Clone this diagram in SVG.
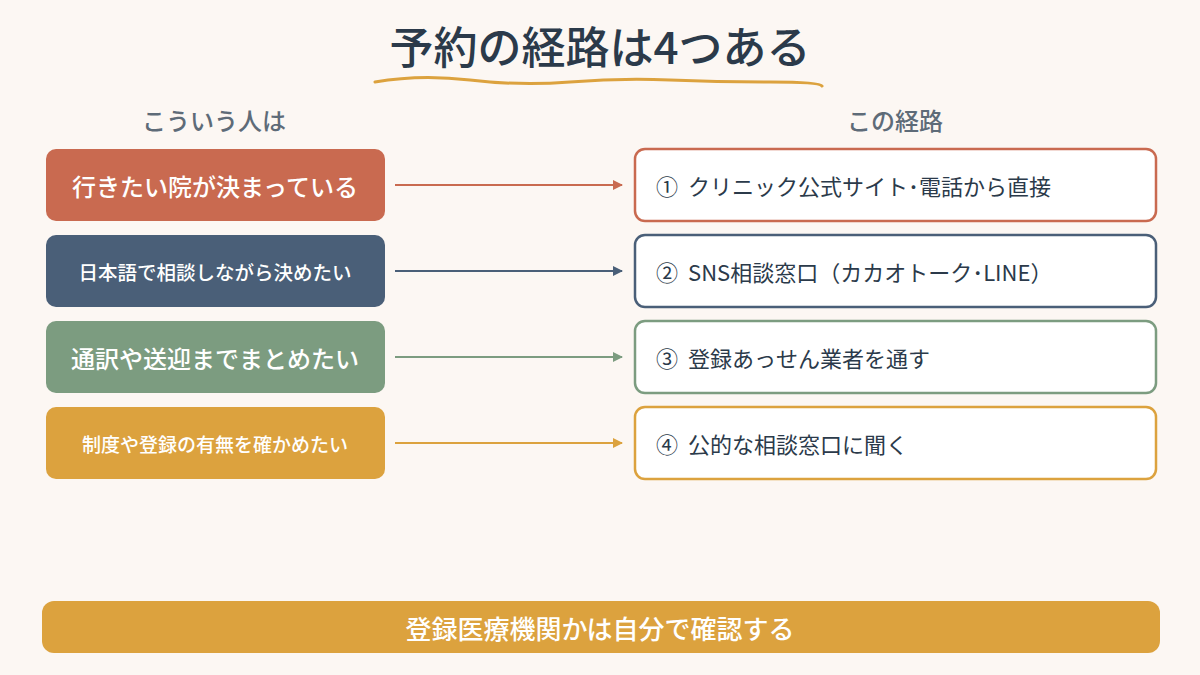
<svg xmlns="http://www.w3.org/2000/svg" width="1200" height="675" viewBox="0 0 1200 675">
<style>
text{font-family:"Noto Sans CJK JP","Noto Sans",sans-serif}
.l{fill:#fff;text-anchor:middle;dominant-baseline:central;font-weight:500}
.r{fill:#2b3a4a;font-size:22px;dominant-baseline:central}
.h{fill:#5e6b78;font-size:24px;font-weight:500;text-anchor:middle}
.rb{fill:#fff;stroke-width:2.5}
</style>
<defs>
<marker id="a1" markerWidth="10" markerHeight="10" refX="9" refY="5" orient="auto" markerUnits="userSpaceOnUse"><path d="M0,0L10,5L0,10z" fill="#c96a50"/></marker>
<marker id="a2" markerWidth="10" markerHeight="10" refX="9" refY="5" orient="auto" markerUnits="userSpaceOnUse"><path d="M0,0L10,5L0,10z" fill="#4a5f78"/></marker>
<marker id="a3" markerWidth="10" markerHeight="10" refX="9" refY="5" orient="auto" markerUnits="userSpaceOnUse"><path d="M0,0L10,5L0,10z" fill="#7c9c80"/></marker>
<marker id="a4" markerWidth="10" markerHeight="10" refX="9" refY="5" orient="auto" markerUnits="userSpaceOnUse"><path d="M0,0L10,5L0,10z" fill="#dca23e"/></marker>
</defs>
<rect width="1200" height="675" fill="#fcf7f3"/>
<text x="600" y="64" font-size="44" font-weight="500" fill="#2b3a4a" text-anchor="middle">予約の経路は4つある</text>
<path d="M375,82 Q420,74 470,80 T570,82 T670,80 T770,82 T822,86" fill="none" stroke="#dca23e" stroke-width="3" stroke-linecap="round"/>
<text class="h" x="214" y="130">こういう人は</text>
<text class="h" x="895" y="130">この経路</text>
<g id="n1"><rect x="46" y="149" width="339" height="72" rx="10" fill="#c96a50"/><text class="l" x="215" y="185" font-size="24">行きたい院が決まっている</text></g>
<g id="n2"><rect x="46" y="235" width="339" height="72" rx="10" fill="#4a5f78"/><text class="l" x="215" y="271" font-size="19.5">日本語で相談しながら決めたい</text></g>
<g id="n3"><rect x="46" y="321" width="339" height="72" rx="10" fill="#7c9c80"/><text class="l" x="215" y="357" font-size="24">通訳や送迎までまとめたい</text></g>
<g id="n4"><rect x="46" y="407" width="339" height="72" rx="10" fill="#dca23e"/><text class="l" x="215" y="443" font-size="19">制度や登録の有無を確かめたい</text></g>
<g id="m1"><rect class="rb" x="635" y="149" width="521" height="72" rx="10" stroke="#c96a50"/><text class="r" x="656" y="185">①<tspan dx="10">クリニック公式サイト･電話から直接</tspan></text></g>
<g id="m2"><rect class="rb" x="635" y="235" width="521" height="72" rx="10" stroke="#4a5f78"/><text class="r" x="656" y="271">②<tspan dx="10">SNS相談窓口（カカオトーク･LINE）</tspan></text></g>
<g id="m3"><rect class="rb" x="635" y="321" width="521" height="72" rx="10" stroke="#7c9c80"/><text class="r" x="656" y="357">③<tspan dx="10">登録あっせん業者を通す</tspan></text></g>
<g id="m4"><rect class="rb" x="635" y="407" width="521" height="72" rx="10" stroke="#dca23e"/><text class="r" x="656" y="443">④<tspan dx="10">公的な相談窓口に聞く</tspan></text></g>
<g id="connectors" stroke-width="2">
<line x1="395" y1="185" x2="622" y2="185" stroke="#c96a50" marker-end="url(#a1)"/>
<line x1="395" y1="271" x2="622" y2="271" stroke="#4a5f78" marker-end="url(#a2)"/>
<line x1="395" y1="357" x2="622" y2="357" stroke="#7c9c80" marker-end="url(#a3)"/>
<line x1="395" y1="443" x2="622" y2="443" stroke="#dca23e" marker-end="url(#a4)"/>
</g>
<g id="footer"><rect x="42" y="601" width="1118" height="52" rx="12" fill="#dca23e"/><text class="l" x="600" y="627" font-size="26">登録医療機関かは自分で確認する</text></g>
</svg>
